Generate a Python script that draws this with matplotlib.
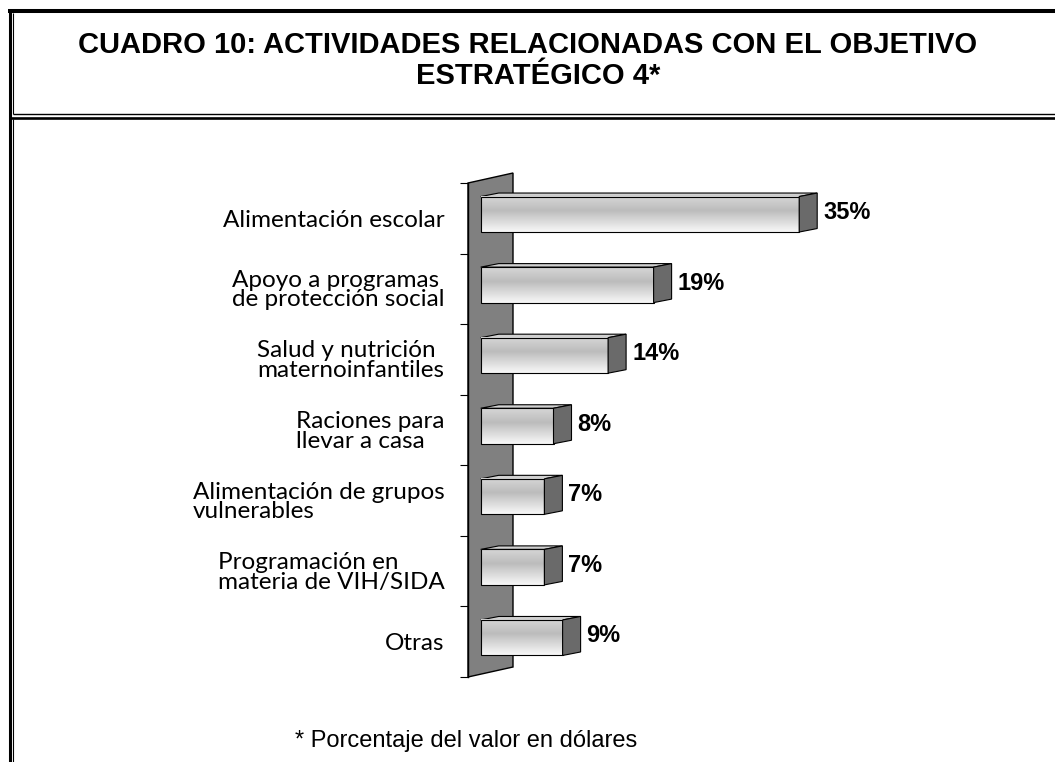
import matplotlib.pyplot as plt
import numpy as np
from matplotlib.patches import Polygon, Rectangle
from matplotlib.lines import Line2D
from matplotlib.colors import LinearSegmentedColormap

# datos del cuadro (de arriba hacia abajo)
categorias = ['Alimentación escolar',
              'Apoyo a programas\nde protección social',
              'Salud y nutrición\nmaternoinfantiles',
              'Raciones para\nllevar a casa',
              'Alimentación de grupos\nvulnerables',
              'Programación en\nmateria de VIH/SIDA',
              'Otras']
porcentajes = [35, 19, 14, 8, 7, 7, 9]
etiquetas = ['35%', '19%', '14%', '8%', '7%', '7%', '9%']

W, H = 1055, 762
fig = plt.figure(figsize=(W / 100, H / 100), dpi=100)


def fx(px):
    return px / W


def fy(py):
    return 1 - py / H


# marco (lineas dobles estilo tabla)
def linea(x0, y0, x1, y1, lw):
    fig.add_artist(Line2D([fx(x0), fx(x1)], [fy(y0), fy(y1)], color='black',
                          lw=lw, solid_capstyle='butt'))


linea(8, 11.3, W, 11.3, 2.9)
linea(9.5, 9.3, 9.5, H, 2.2)
linea(12.5, 13, 12.5, 114, 0.8)
linea(12.5, 119, 12.5, H, 0.8)
linea(12.5, 114.3, W, 114.3, 1.0)
linea(11, 118.3, W, 118.3, 1.9)

fig.text(fx(528), fy(53), 'CUADRO 10: ACTIVIDADES RELACIONADAS CON EL OBJETIVO',
         ha='center', va='baseline', fontsize=21, fontweight='bold',
         family='Liberation Sans')
fig.text(fx(538), fy(84), 'ESTRATÉGICO 4*', ha='center', va='baseline',
         fontsize=21, fontweight='bold', family='Liberation Sans')
fig.text(fx(295), fy(747), '* Porcentaje del valor en dólares', ha='left',
         va='baseline', fontsize=17, family='Liberation Sans')

# ejes: 1 unidad x = 9.1 px, 1 categoria = 70.57 px
px_x = 9.1
px_y = 494 / 7
x_left = (468 - 480.7) / px_x
x_right = (1000 - 480.7) / px_x
ax = fig.add_axes([fx(468), fy(677), fx(1000) - fx(468), (677 - 183) / H])
ax.set_xlim(x_left, x_right)
ax.set_ylim(0, 7)

# pared gris
wdx = 45 / px_x
wdy = 10 / px_y
ax.add_patch(Polygon([(x_left, 0), (x_left, 7), (x_left + wdx, 7 + wdy),
                      (x_left + wdx, wdy)], closed=True, facecolor='#808080',
                     edgecolor='black', lw=1, zorder=1, clip_on=False))

# barras 3D
ddx = 18 / px_x
ddy = 3.5 / px_y
h = 35.5 / px_y
off = 4 / px_y
grad_cmap = LinearSegmentedColormap.from_list(
    'g', [(0, '#f8f8f8'), (0.6, '#bcbcbc'), (1, '#d6d6d6')])
grad = np.linspace(0, 1, 64).reshape(-1, 1)

n = len(categorias)
for i, v in enumerate(porcentajes):
    yc = n - 0.5 - i + off
    y0, y1 = yc - h / 2, yc + h / 2
    ax.add_patch(Polygon([(0, y1), (v, y1), (v + ddx, y1 + ddy), (ddx, y1 + ddy)],
                         closed=True, facecolor='#d0d0d0', edgecolor='black',
                         lw=0.8, zorder=3, clip_on=False))
    ax.imshow(grad, extent=(0, v, y0, y1), cmap=grad_cmap, aspect='auto',
              origin='lower', zorder=3, interpolation='bilinear')
    ax.add_patch(Rectangle((0, y0), v, h, facecolor='none', edgecolor='black',
                           lw=0.8, zorder=4))
    ax.add_patch(Polygon([(v, y0), (v, y1), (v + ddx, y1 + ddy), (v + ddx, y0 + ddy)],
                         closed=True, facecolor='#6a6a6a', edgecolor='black',
                         lw=0.8, zorder=4, clip_on=False))
    ax.text(v + ddx + 6 / px_x, yc + ddy / 2, etiquetas[i], ha='left', va='center',
            fontsize=17, fontweight='bold', family='Liberation Sans')

ax.set_xlim(x_left, x_right)
ax.set_ylim(0, 7)
ax.set_facecolor('none')
for s in ['top', 'right', 'bottom']:
    ax.spines[s].set_visible(False)
ax.spines['left'].set_linewidth(1)
ax.set_xticks([])
ax.set_yticks(range(n + 1))
ax.set_yticklabels([])
ax.tick_params(axis='y', which='major', direction='out', length=5.8, width=0.8)
ax.set_yticks([n - 0.5 - i for i in range(n)], minor=True)
ax.set_yticklabels(categorias, minor=True, fontsize=17.5, family='Lato',
                   linespacing=0.92)
ax.tick_params(axis='y', which='minor', length=0, pad=17)
for t in ax.get_yticklabels(minor=True):
    t.set_multialignment('left')

fig.savefig('out.png', dpi=100)
